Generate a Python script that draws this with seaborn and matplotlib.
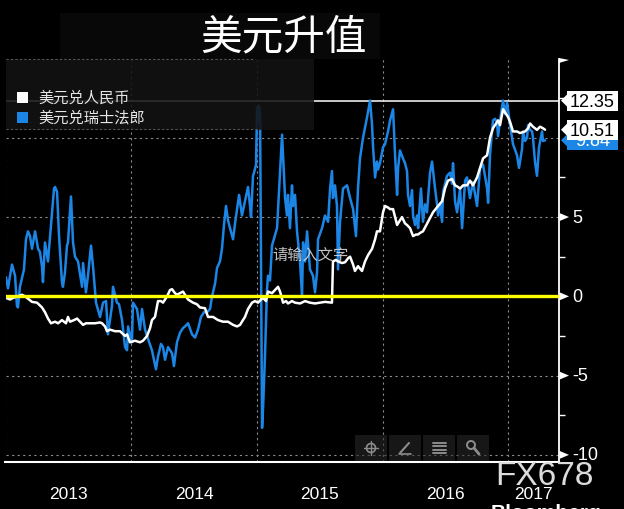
import matplotlib
matplotlib.use("Agg")
import matplotlib.pyplot as plt
import numpy as np
import pandas as pd
import seaborn as sns
from matplotlib.patches import Rectangle, Polygon, Circle

# ---------------- data (decimal year, % change since start of 2013) ----------------
chf_t = [2013.004, 2013.020, 2013.036, 2013.052, 2013.076, 2013.091, 2013.099, 2013.115, 2013.147, 2013.163,
         2013.179, 2013.195, 2013.211, 2013.235, 2013.259, 2013.274, 2013.290, 2013.298, 2013.314, 2013.338,
         2013.362, 2013.378, 2013.386, 2013.394, 2013.410, 2013.426, 2013.449, 2013.457, 2013.473, 2013.489,
         2013.497, 2013.521, 2013.537, 2013.553, 2013.577, 2013.593, 2013.609, 2013.617, 2013.640, 2013.656,
         2013.680, 2013.696, 2013.720, 2013.752, 2013.776, 2013.800, 2013.815, 2013.847, 2013.855, 2013.887,
         2013.903, 2013.927, 2013.951, 2013.967, 2013.975, 2014.006, 2014.014, 2014.030, 2014.046, 2014.070,
         2014.086, 2014.110, 2014.134, 2014.165, 2014.197, 2014.213, 2014.237, 2014.253, 2014.269, 2014.293,
         2014.309, 2014.325, 2014.340, 2014.364, 2014.388, 2014.412, 2014.428, 2014.452, 2014.484, 2014.508,
         2014.531, 2014.555, 2014.579, 2014.603, 2014.627, 2014.643, 2014.667, 2014.683, 2014.706, 2014.722,
         2014.738, 2014.754, 2014.770, 2014.786, 2014.810, 2014.826, 2014.842, 2014.858, 2014.881, 2014.905,
         2014.929, 2014.945, 2014.953, 2014.969, 2014.977, 2014.993, 2015.001, 2015.009, 2015.017, 2015.025,
         2015.033, 2015.041, 2015.049, 2015.056, 2015.064, 2015.080, 2015.088, 2015.104, 2015.120, 2015.160,
         2015.184, 2015.200, 2015.208, 2015.224, 2015.239, 2015.247, 2015.263, 2015.279, 2015.287, 2015.303,
         2015.319, 2015.343, 2015.359, 2015.367, 2015.383, 2015.399, 2015.422, 2015.446, 2015.462, 2015.478,
         2015.486, 2015.518, 2015.542, 2015.566, 2015.582, 2015.597, 2015.605, 2015.621, 2015.637, 2015.645,
         2015.661, 2015.685, 2015.717, 2015.741, 2015.765, 2015.788, 2015.804, 2015.820, 2015.844, 2015.876,
         2015.900, 2015.916, 2015.924, 2015.940, 2015.955, 2015.963, 2015.979, 2016.003, 2016.019, 2016.043,
         2016.059, 2016.083, 2016.099, 2016.115, 2016.123, 2016.138, 2016.162, 2016.178, 2016.194, 2016.202,
         2016.218, 2016.234, 2016.242, 2016.258, 2016.274, 2016.282, 2016.305, 2016.321, 2016.337, 2016.353,
         2016.377, 2016.393, 2016.417, 2016.433, 2016.441, 2016.457, 2016.473, 2016.481, 2016.512, 2016.536,
         2016.552, 2016.560, 2016.576, 2016.592, 2016.616, 2016.632, 2016.656, 2016.671, 2016.695, 2016.719,
         2016.751, 2016.775, 2016.799, 2016.831, 2016.839, 2016.854, 2016.878, 2016.894, 2016.910, 2016.918,
         2016.934, 2016.958, 2016.974, 2016.990, 2017.014, 2017.037, 2017.069, 2017.085, 2017.109, 2017.117,
         2017.133, 2017.149, 2017.157, 2017.173, 2017.189, 2017.196, 2017.212, 2017.228, 2017.244, 2017.268,
         2017.276, 2017.292]
chf_v = [1.2, 0.5, 1.3, 2.0, 1.3, -0.6, -0.7, 0.6, 1.7, 3.6,
         4.1, 3.8, 3.0, 4.1, 3.0, 2.8, 1.9, 0.9, 3.4, 2.2,
         4.5, 6.0, 6.8, 6.9, 6.6, 3.8, 0.9, 0.6, 1.5, 3.2,
         3.4, 6.3, 3.4, 2.5, 2.2, 1.4, 0.6, 2.1, 0.25, 1.3,
         3.2, 1.9, -0.4, -1.3, -0.4, -0.3, -2.4, -0.6, 0.6, -0.4,
         -0.5, -1.5, -3.2, -3.4, -1.9, -2.9, -0.4, -0.6, -0.8, -2.1,
         -0.8, -2.1, -2.7, -3.4, -4.6, -3.8, -3.0, -3.2, -4.0, -3.2,
         -3.4, -3.6, -4.4, -2.9, -2.3, -2.0, -1.9, -1.7, -2.4, -2.6,
         -2.1, -1.3, -1.0, -1.0, -0.8, 0.0, 0.8, 1.8, 2.2, 3.0,
         4.5, 5.7, 4.8, 4.3, 3.6, 4.6, 5.5, 6.4, 5.1, 6.0,
         6.9, 5.7, 5.0, 7.6, 7.8, 8.3, 11.9, 11.0, 12.0, 11.5,
         2.0, -8.3, -7.0, -5.5, -3.8, 0.4, 1.3, 1.0, 3.2, 4.3,
         7.9, 10.2, 8.9, 6.2, 5.1, 6.4, 4.3, 7.0, 5.7, 6.4,
         4.1, 2.2, 0.0, 3.4, 2.2, 4.1, 1.7, 1.3, 0.25, 1.5,
         3.6, 4.3, 5.1, 4.7, 6.8, 7.9, 6.2, 7.0, 5.7, 1.7,
         4.7, 6.8, 7.0, 6.2, 5.5, 3.8, 6.8, 8.7, 10.0, 11.3,
         12.35, 10.8, 9.4, 7.5, 8.5, 8.0, 8.4, 9.4, 9.6, 10.4,
         11.1, 11.8, 8.9, 6.4, 8.1, 9.2, 8.7, 8.4, 7.9, 6.4,
         5.7, 6.7, 5.1, 4.5, 5.1, 4.3, 6.8, 4.7, 5.8, 5.3,
         7.8, 8.5, 6.8, 5.8, 5.1, 5.8, 4.7, 6.6, 7.6, 7.8,
         7.1, 8.4, 6.0, 5.3, 6.8, 4.3, 7.3, 7.5, 6.2, 7.2,
         5.7, 8.1, 8.3, 6.8, 5.9, 8.9, 11.1, 11.2, 11.0, 10.1,
         11.1, 12.35, 11.5, 12.2, 10.8, 9.6, 8.9, 8.1, 9.3, 10.4,
         9.8, 10.0, 10.8, 10.5, 10.4, 10.0, 8.5, 7.6, 9.4, 10.4,
         9.8, 9.84]

cny_t = [2013.004, 2013.036, 2013.060, 2013.099, 2013.131, 2013.155, 2013.171, 2013.211, 2013.251, 2013.290,
         2013.314, 2013.338, 2013.362, 2013.394, 2013.418, 2013.449, 2013.481, 2013.497, 2013.513, 2013.545,
         2013.569, 2013.593, 2013.617, 2013.640, 2013.672, 2013.712, 2013.752, 2013.768, 2013.792, 2013.807,
         2013.831, 2013.871, 2013.911, 2013.951, 2013.967, 2013.990, 2014.030, 2014.070, 2014.094, 2014.126,
         2014.150, 2014.165, 2014.189, 2014.213, 2014.237, 2014.253, 2014.285, 2014.309, 2014.325, 2014.348,
         2014.364, 2014.388, 2014.412, 2014.436, 2014.452, 2014.492, 2014.523, 2014.547, 2014.587, 2014.611,
         2014.651, 2014.691, 2014.730, 2014.770, 2014.810, 2014.842, 2014.866, 2014.881, 2014.905, 2014.929,
         2014.961, 2014.985, 2015.009, 2015.033, 2015.049, 2015.072, 2015.088, 2015.120, 2015.144, 2015.168,
         2015.184, 2015.208, 2015.232, 2015.247, 2015.279, 2015.303, 2015.343, 2015.383, 2015.422, 2015.462,
         2015.502, 2015.542, 2015.597, 2015.605, 2015.629, 2015.645, 2015.677, 2015.701, 2015.725, 2015.741,
         2015.765, 2015.780, 2015.804, 2015.836, 2015.860, 2015.884, 2015.916, 2015.940, 2015.955, 2015.979,
         2016.003, 2016.019, 2016.043, 2016.059, 2016.083, 2016.099, 2016.115, 2016.138, 2016.154, 2016.178,
         2016.194, 2016.218, 2016.242, 2016.266, 2016.282, 2016.298, 2016.321, 2016.361, 2016.401, 2016.441,
         2016.473, 2016.496, 2016.520, 2016.552, 2016.576, 2016.600, 2016.616, 2016.640, 2016.671, 2016.695,
         2016.719, 2016.751, 2016.775, 2016.799, 2016.831, 2016.854, 2016.878, 2016.894, 2016.918, 2016.934,
         2016.958, 2016.974, 2016.998, 2017.014, 2017.037, 2017.069, 2017.093, 2017.133, 2017.157, 2017.173,
         2017.196, 2017.228, 2017.252, 2017.276, 2017.292]
cny_v = [-0.1, -0.2, -0.1, 0.0, 0.1, 0.0, -0.1, -0.35, -0.4, -0.7,
         -1.0, -1.4, -1.7, -1.6, -1.7, -1.5, -1.7, -1.3, -1.6, -1.5,
         -1.4, -1.6, -1.8, -1.7, -1.7, -1.7, -1.65, -1.7, -1.9, -2.2,
         -2.1, -2.2, -2.2, -2.5, -2.4, -2.9, -2.8, -2.9, -2.8, -2.5,
         -2.0, -1.5, -1.3, -0.3, -0.3, -0.4, 0.0, 0.4, 0.45, 0.2,
         0.1, 0.2, 0.3, 0.0, -0.2, -0.4, -0.5, -0.7, -0.75, -1.3,
         -1.3, -1.5, -1.6, -1.6, -1.8, -1.9, -1.8, -1.6, -1.3, -0.8,
         -0.4, -0.3, -0.4, -0.2, -0.1, -0.3, 0.3, 0.2, 0.4, 0.6,
         0.3, -0.4, -0.3, -0.45, -0.3, -0.4, -0.45, -0.3, -0.4, -0.45,
         -0.4, -0.35, -0.4, 2.2, 2.3, 2.2, 2.1, 2.15, 2.4, 2.5,
         2.0, 1.6, 1.9, 1.6, 2.2, 2.6, 3.0, 3.6, 4.1, 4.1,
         5.3, 5.7, 5.6, 5.5, 5.5, 5.0, 4.5, 4.8, 5.0, 4.6,
         4.5, 4.3, 3.8, 3.9, 3.9, 4.0, 4.1, 4.7, 5.3, 5.7,
         6.0, 6.8, 7.3, 7.4, 7.0, 6.9, 6.8, 7.0, 7.0, 7.3,
         7.0, 7.5, 8.1, 8.7, 8.9, 10.0, 10.6, 10.8, 11.1, 10.8,
         11.8, 11.6, 11.3, 11.0, 10.4, 10.4, 10.3, 10.4, 10.6, 10.9,
         10.7, 10.5, 10.7, 10.6, 10.51]

series_names = ["美元兑人民币", "美元兑瑞士法郎"]
series_colors = ["#ffffff", "#1c86e6"]
title_text = "美元升值"
note_text = "请输入文字"
year_labels = ["2013", "2014", "2015", "2016", "2017"]
year_label_pos = [2013.5, 2014.5, 2015.5, 2016.5, 2017.2]
y_tick_vals = [5, 0, -5, -10]
y_tick_labels = ["5", "0", "-5", "-10"]
y_minor_vals = [12.5, 7.5, 2.5, -2.5, -7.5]
grid_vals = [10, 5, -5, -10]
high_val = 12.35
last_cny = 10.51
last_chf = 9.84

# ---------------- style ----------------
sns.set_style("dark")
plt.rcParams["font.family"] = ["Noto Sans CJK SC", "DejaVu Sans"]

W, H = 624, 510
fig = plt.figure(figsize=(W / 100, H / 100), dpi=100, facecolor="black")
ax_top, ax_bot = 60, 463
ax = fig.add_axes([5.5 / W, 1 - ax_bot / H, 553.5 / W, (ax_bot - ax_top) / H])
ax.set_facecolor("black")

df = pd.concat([
    pd.DataFrame({"t": cny_t, "v": cny_v, "s": series_names[0]}),
    pd.DataFrame({"t": chf_t, "v": chf_v, "s": series_names[1]}),
])
sns.lineplot(data=df, x="t", y="v", hue="s", hue_order=[series_names[1], series_names[0]],
             palette=dict(zip(series_names, series_colors)), estimator=None, sort=False,
             linewidth=1.8, legend=False, ax=ax, zorder=3)

xmin, xmax = 2013.0, 2017.403
ax.set_xlim(xmin, xmax)
ax.set_ylim(-10.45, 14.97)

# grid
for g in grid_vals:
    ax.axhline(g, color="#8a8a8a", lw=0.8, ls=(0, (2, 3)), zorder=1)
for yr in range(2013, 2018):
    ax.axvline(yr, color="#8a8a8a", lw=0.8, ls=(0, (2, 3)), zorder=1)
ax.axhline(high_val, color="white", lw=1.1, zorder=2)
ax.axhline(0, color="#ffff00", lw=2.4, zorder=5)

for s in ["left", "top"]:
    ax.spines[s].set_visible(False)
ax.spines["right"].set_color("white"); ax.spines["right"].set_linewidth(1.3)
ax.spines["bottom"].set_color("white"); ax.spines["bottom"].set_linewidth(1.5)

ax.set_xlabel(""); ax.set_ylabel("")
ax.set_yticks([])
ax.set_yticks(y_minor_vals, minor=True)
ax.tick_params(axis="y", which="minor", left=False, right=True, length=4, width=1, color="white", direction="out")
ax.set_xticks([2014, 2015, 2016, 2017])
ax.set_xticklabels([])
qs = [2013 + q * 0.25 for q in range(18) if q % 4 != 0 or q == 0]
ax.set_xticks([q for q in qs if q <= xmax], minor=True)
ax.tick_params(axis="x", which="major", length=31, width=1, color="#8c8c8c", direction="out")
ax.tick_params(axis="x", which="minor", length=4, width=1, color="white", direction="out")

for lab, pos in zip(year_labels, year_label_pos):
    ax.text(pos, -0.078, lab, transform=ax.get_xaxis_transform(), ha="center", va="center",
            color="white", fontsize=12.5, family=["Liberation Sans"])

# ---------------- overlay (pixel coords, y down) ----------------
ov = fig.add_axes([0, 0, 1, 1], zorder=10)
ov.set_xlim(0, W); ov.set_ylim(H, 0); ov.axis("off"); ov.patch.set_alpha(0)

def pix_y(val):
    return H - ax.transData.transform((xmin, val))[1]

# dark legend / title overlay
ov.add_patch(Rectangle((6, 60), 308, 71, facecolor="#131313", alpha=0.88, edgecolor="none"))
ov.add_patch(Rectangle((60, 14), 320, 46, facecolor="#0a0a0a", alpha=0.9, edgecolor="none"))
ov.plot([6, 255], [60, 60], color="#555555", lw=0.8, ls=(0, (2, 2)))
ov.plot([6, 260], [130, 130], color="#555555", lw=0.8, ls=(0, (2, 2)))

ov.text(283, 38, title_text, fontsize=30, color="white", ha="center", va="center")

# legend
for i, (name, col) in enumerate(zip(series_names, series_colors)):
    yc = 98.5 + 20 * i
    ov.add_patch(Rectangle((17, yc - 5.5), 11, 11, facecolor=col, edgecolor="none"))
    ov.text(38, yc, name, fontsize=11, color="#e6e6e6", ha="left", va="center")

ov.text(311, 255.5, note_text, fontsize=11, color="#d8d8d8", ha="center", va="center", alpha=0.9)

# right axis markers and labels
ov.add_patch(Polygon([[559, 59], [569, 61], [559, 64]], closed=True, facecolor="white", edgecolor="none"))
for v, lab in zip(y_tick_vals, y_tick_labels):
    yy = pix_y(v)
    ov.add_patch(Polygon([[559.5, yy - 4], [559.5, yy + 4], [569, yy]], closed=True, facecolor="white", edgecolor="none"))
    ov.text(572, yy, lab, fontsize=13, color="white", ha="left", va="center", family=["Liberation Sans"])

def value_box(val, face, txtcol):
    yy = pix_y(val)
    ov.add_patch(Polygon([[561, yy], [567, yy - 6], [567, yy + 6]], closed=True, facecolor=face, edgecolor="none"))
    ov.add_patch(Rectangle((567, yy - 10), 51, 20, facecolor=face, edgecolor="none"))
    ov.text(592.5, yy + 0.5, f"{val:.2f}", fontsize=13, color=txtcol, ha="center", va="center",
            family=["Liberation Sans"])

value_box(last_chf, series_colors[1], "white")
value_box(last_cny, "white", "black")
value_box(high_val, "white", "black")

# toolbar buttons
for bx in [355, 389, 423, 457]:
    ov.add_patch(Rectangle((bx, 436), 32, 26, facecolor="#2a2a2a", alpha=0.55, edgecolor="none"))
ic = "#8c8c8c"
ov.add_patch(Circle((371, 449), 4.5, facecolor="none", edgecolor=ic, lw=1.2))
ov.plot([371, 371], [442, 456], color=ic, lw=1); ov.plot([364, 378], [449, 449], color=ic, lw=1)
ov.plot([400, 409], [454, 444], color=ic, lw=1.5); ov.plot([399, 411], [455, 455], color=ic, lw=1.2)
for k in range(4):
    ov.plot([433, 446], [443.5 + 3.5 * k, 443.5 + 3.5 * k], color=ic, lw=1.4)
ov.add_patch(Circle((471, 446), 4, facecolor="none", edgecolor=ic, lw=1.4))
ov.plot([474, 479], [449, 455], color=ic, lw=2)

# watermarks
ov.text(544, 477, "FX678", fontsize=24, color="#dcdcdc", ha="center", va="center", family=["Liberation Sans"])
ov.text(491, 504, "Bloomberg", fontsize=15, color="white", ha="left", va="top",
        family=["Liberation Sans"], fontweight="bold")

fig.savefig("out.png", dpi=100, facecolor="black")
